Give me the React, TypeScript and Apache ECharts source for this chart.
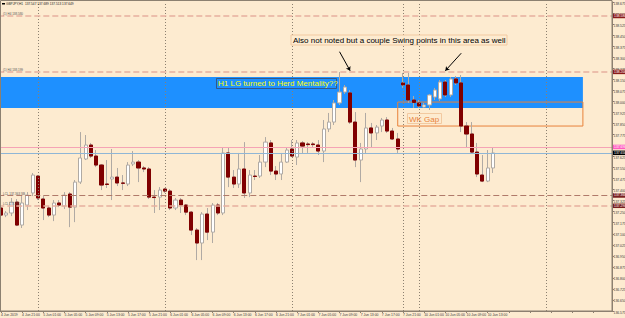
import React, { useEffect, useRef } from 'react';
import * as echarts from 'echarts';

// ---------- data ----------
const chartTitle = 'GBPJPY,H1  137.547 137.689 137.513 137.649';

// one label every 4 hourly bars, starting at bar 0
const xTickLabels = [
  '4 Jun 2019', '4 Jun 21:00', '5 Jun 01:00', '5 Jun 05:00', '5 Jun 09:00', '5 Jun 13:00',
  '5 Jun 17:00', '5 Jun 21:00', '6 Jun 01:00', '6 Jun 05:00', '6 Jun 09:00', '6 Jun 13:00',
  '6 Jun 17:00', '6 Jun 21:00', '7 Jun 01:00', '7 Jun 05:00', '7 Jun 09:00', '7 Jun 13:00',
  '7 Jun 17:00', '7 Jun 21:00', '10 Jun 01:00', '10 Jun 05:00', '10 Jun 09:00', '10 Jun 13:00',
];

const opens = [
  137.275, 137.227, 137.241, 137.315, 137.159, 137.295, 137.377, 137.492, 137.336, 137.275,
  137.227, 137.309, 137.288, 137.370, 137.281, 137.451, 137.608, 137.703, 137.628, 137.567,
  137.438, 137.472, 137.485, 137.445, 137.438, 137.574, 137.587, 137.547, 137.540, 137.349,
  137.349, 137.404, 137.390, 137.275, 137.329, 137.295, 137.247, 137.125, 137.037, 137.234,
  137.111, 137.295, 137.241, 137.649, 137.485, 137.438, 137.540, 137.377, 137.492, 137.492,
  137.587, 137.717, 137.526, 137.506, 137.587, 137.676, 137.621, 137.717, 137.710, 137.710,
  137.703, 137.662, 137.812, 137.859, 137.989, 138.063, 138.057, 137.859, 137.601, 137.676,
  137.819, 137.785, 137.832, 137.873, 137.798, 137.744, 138.125, 138.111, 138.009, 137.989,
  137.961, 137.975, 138.029, 138.016, 138.131, 138.043, 138.152, 138.125, 137.832, 137.778,
  137.655, 137.499, 137.458, 137.547,
];
const closes = [
  137.227, 137.241, 137.315, 137.159, 137.309, 137.363, 137.499, 137.343, 137.275, 137.227,
  137.309, 137.295, 137.363, 137.281, 137.451, 137.615, 137.703, 137.628, 137.567, 137.431,
  137.435, 137.485, 137.445, 137.443, 137.567, 137.587, 137.547, 137.540, 137.349, 137.346,
  137.397, 137.390, 137.275, 137.329, 137.295, 137.247, 137.125, 137.037, 137.234, 137.111,
  137.295, 137.241, 137.649, 137.485, 137.438, 137.540, 137.377, 137.499, 137.489, 137.587,
  137.723, 137.526, 137.506, 137.587, 137.669, 137.628, 137.717, 137.696, 137.706, 137.706,
  137.662, 137.812, 137.859, 137.989, 138.063, 138.097, 137.859, 137.601, 137.676, 137.819,
  137.785, 137.825, 137.873, 137.798, 137.744, 137.676, 138.111, 138.009, 137.992, 137.968,
  137.975, 138.043, 138.077, 138.131, 138.043, 138.152, 138.125, 137.832, 137.778, 137.655,
  137.506, 137.458, 137.547, 137.649,
];
const lows = [
  137.111, 137.213, 137.220, 137.152, 137.139, 137.261, 137.356, 137.329, 137.193, 137.213,
  137.186, 137.281, 137.268, 137.145, 137.179, 137.438, 137.601, 137.615, 137.553, 137.397,
  137.411, 137.329, 137.424, 137.397, 137.424, 137.560, 137.451, 137.519, 137.336, 137.241,
  137.261, 137.377, 137.261, 137.261, 137.241, 137.227, 137.091, 136.921, 136.921, 137.057,
  137.037, 137.227, 137.227, 137.417, 137.411, 137.411, 137.343, 137.349, 137.465, 137.479,
  137.553, 137.499, 137.465, 137.465, 137.581, 137.621, 137.567, 137.649, 137.649, 137.689,
  137.635, 137.587, 137.791, 137.839, 137.975, 138.050, 137.846, 137.553, 137.451, 137.649,
  137.689, 137.737, 137.791, 137.785, 137.737, 137.649, 138.091, 137.989, 137.955, 137.955,
  137.955, 137.941, 138.009, 138.002, 138.029, 138.029, 138.111, 137.791, 137.689, 137.649,
  137.485, 137.451, 137.451, 137.513,
];
const highs = [
  137.295, 137.254, 137.343, 137.336, 137.356, 137.383, 137.513, 137.499, 137.356, 137.288,
  137.329, 137.329, 137.383, 137.383, 137.465, 137.791, 137.771, 137.717, 137.669, 137.574,
  137.601, 137.676, 137.547, 137.499, 137.587, 137.662, 137.601, 137.560, 137.553, 137.397,
  137.417, 137.411, 137.404, 137.343, 137.343, 137.302, 137.254, 137.139, 137.247, 137.275,
  137.309, 137.309, 137.689, 137.689, 137.533, 137.649, 137.723, 137.533, 137.533, 137.635,
  137.757, 137.737, 137.560, 137.649, 137.689, 137.737, 137.737, 137.730, 137.723, 137.723,
  137.737, 137.873, 137.921, 138.009, 138.199, 138.111, 138.077, 137.927, 137.717, 137.921,
  137.853, 137.839, 137.887, 137.893, 137.819, 137.785, 138.193, 138.193, 138.036, 138.009,
  137.989, 138.050, 138.091, 138.145, 138.145, 138.165, 138.172, 138.179, 137.859, 137.859,
  137.717, 137.635, 137.669, 137.689,
];

const totalSlots = 116; // visible bar slots incl. empty future area
const yMin = 136.575;
const yMax = 138.675;
const yStep = 0.075;

const upperLevels = [138.580, 138.199];
const lowerLevels = [137.363, 137.295];
const pinkLevel = 137.689;
const bidLevel = 137.649;
const zoneTop = 138.165;
const zoneBottom = 137.955;
const gapTop = 137.995;
const gapBottom = 137.832;
const daySeparators = [7, 31, 55, 76, 79, 103];
const zoneEndBar = 110;
const gapStartBar = 75;
const arrow1 = [[64, 138.337], [66, 138.208]];
const arrow2 = [[87, 138.327], [84, 138.208]];

// ---------- styles ----------
const BG = '#fdebd0';
const FRAME = '#8c8070';
const BEAR = '#800000';
const WICK = '#b0aaa4';
const FONT = '"Liberation Sans", Arial, sans-serif';
const TINY = 3.4;

const tag = (bg: string, fg = '#ffffff') => ({
  show: true,
  position: 'end' as const,
  distance: 1,
  formatter: (p: any) => Number(p.value).toFixed(3),
  backgroundColor: bg,
  color: fg,
  fontSize: TINY,
  fontFamily: FONT,
  padding: [1, 1, 0.5, 1],
});

function buildOption() {
  const cats = Array.from({ length: totalSlots }, (_, i) => String(i));
  const candles = opens.map((o, i) => [o, closes[i], lows[i], highs[i]]);
  const bearBodies: number[][] = [];
  opens.forEach((o, i) => {
    if (closes[i] < o) bearBodies.push([i, o, closes[i], closes[i], o]);
  });

  const hLine = (v: number, color: string, width: number, type: any, bg: string, fg?: string) => ({
    yAxis: v,
    lineStyle: { color, width, type },
    label: tag(bg, fg),
  });

  const note = (x: number, y: number, text: string) => ({
    type: 'text', z: 101, x, y,
    style: { text, fontSize: 3, fontFamily: FONT, fill: '#555', verticalAlign: 'middle' },
  });

  return {
    animation: false,
    backgroundColor: BG,
    grid: { left: -1.7, right: 13, top: 2, bottom: 7, outerBoundsMode: 'none', containLabel: false },
    xAxis: {
      type: 'category',
      data: cats,
      boundaryGap: true,
      axisLine: { show: true, lineStyle: { color: FRAME, width: 1 } },
      axisTick: { show: true, interval: 3, alignWithLabel: true, length: 2, lineStyle: { color: FRAME } },
      axisLabel: {
        show: true,
        interval: 3,
        showMinLabel: true,
        hideOverlap: false,
        fontSize: TINY,
        fontFamily: FONT,
        color: '#3a3a3a',
        margin: 2,
        align: 'left',
        formatter: (v: string) => {
          const i = Number(v);
          return i % 4 === 0 && i / 4 < xTickLabels.length ? xTickLabels[i / 4] : '';
        },
      },
      splitLine: { show: false },
    },
    yAxis: {
      type: 'value',
      position: 'right',
      min: yMin,
      max: yMax,
      interval: yStep,
      axisLine: { show: true, lineStyle: { color: FRAME, width: 1 } },
      axisTick: { show: true, length: 2, lineStyle: { color: FRAME } },
      axisLabel: {
        fontSize: TINY,
        fontFamily: FONT,
        color: '#3a3a3a',
        margin: 1.5,
        verticalAlign: 'top',
        showMinLabel: true,
        showMaxLabel: true,
        formatter: (v: number) => v.toFixed(3),
      },
      splitLine: { show: false },
    },
    graphic: [
      {
        type: 'rect',
        z: 100,
        silent: true,
        shape: { x: 0.5, y: 0.5, width: 611.5, height: 310.5 },
        style: { fill: 'none', stroke: FRAME, lineWidth: 1 },
      },
      { type: 'rect', z: 101, shape: { x: 2, y: 3, width: 3, height: 1.5 }, style: { fill: '#000' } },
      {
        type: 'text', z: 101, x: 6, y: 4,
        style: { text: chartTitle, fontSize: 3.2, fontFamily: FONT, fill: '#222', verticalAlign: 'middle' },
      },
      note(3, 14, '(1) H4 138.580'),
      note(3, 70, '(1) H4 138.199'),
      note(3, 193.5, 'LCL 137.363 SB'),
      note(3, 203.5, 'LCL 137.295'),
      // swing-point note
      {
        type: 'rect', z: 101, shape: { x: 291, y: 35, width: 216, height: 10 },
        style: { fill: BG, stroke: '#f2c9a0', lineWidth: 1 },
      },
      {
        type: 'text', z: 102, x: 293, y: 40,
        style: {
          text: 'Also not noted but a couple Swing points in this area as well',
          fontSize: 8, fontFamily: FONT, fill: '#000', verticalAlign: 'middle',
        },
      },
      // herd mentality label
      {
        type: 'rect', z: 101, shape: { x: 216.5, y: 78.5, width: 120, height: 10 },
        style: { fill: 'none', stroke: '#3a4a6a', lineWidth: 0.8 },
      },
      {
        type: 'text', z: 102, x: 218, y: 83.5,
        style: {
          text: 'H1 LG turned to Herd Mentality??',
          fontSize: 8, fontFamily: FONT, fill: '#ffff00', verticalAlign: 'middle',
        },
      },
      // WK gap label
      {
        type: 'rect', z: 101, shape: { x: 407.5, y: 113.5, width: 34, height: 10 },
        style: { fill: 'none', stroke: '#f2c9a0', lineWidth: 1 },
      },
      {
        type: 'text', z: 102, x: 409, y: 119,
        style: { text: 'WK Gap', fontSize: 8, fontFamily: FONT, fill: '#e8823a', verticalAlign: 'middle' },
      },
    ],
    series: [
      {
        type: 'candlestick',
        data: candles,
        barWidth: 3.6,
        itemStyle: {
          color: '#ffffff',
          color0: BEAR,
          borderColor: WICK,
          borderColor0: WICK,
          borderWidth: 1,
        },
        markArea: {
          silent: true,
          z: 1,
          data: [
            [
              { yAxis: zoneTop, itemStyle: { color: '#1e90ff', opacity: 1 } },
              { xAxis: zoneEndBar, yAxis: zoneBottom },
            ],
            [
              {
                xAxis: gapStartBar, yAxis: gapTop,
                itemStyle: { color: 'rgba(0,0,0,0)', borderColor: '#e8823a', borderWidth: 1 },
              },
              { xAxis: zoneEndBar, yAxis: gapBottom },
            ],
          ],
        },
        markLine: {
          silent: true,
          symbol: ['none', 'none'],
          animation: false,
          data: [
            ...daySeparators.map((b) => ({
              xAxis: b,
              lineStyle: { color: FRAME, width: 1, type: [1, 2] },
              label: { show: false },
            })),
            hLine(upperLevels[0], '#e6b09e', 1.5, [6, 3], '#8b1a1a'),
            hLine(upperLevels[1], '#e6b09e', 1.5, [6, 3], '#8b1a1a'),
            hLine(pinkLevel, '#f5a3b5', 1, 'solid', '#ff5cc0'),
            hLine(bidLevel, '#8fb6d6', 1, 'solid', '#000000'),
            hLine(lowerLevels[0], '#b07a6a', 1, [6, 3], '#7a1f1f'),
            hLine(lowerLevels[1], '#e6b09e', 1.5, [6, 3], '#7a1f1f'),
            [
              { coord: arrow1[0], symbol: 'none', lineStyle: { color: '#000', width: 1, type: 'solid' }, label: { show: false } },
              { coord: arrow1[1], symbol: 'arrow', symbolSize: 4 },
            ],
            [
              { coord: arrow2[0], symbol: 'none', lineStyle: { color: '#000', width: 1, type: 'solid' }, label: { show: false } },
              { coord: arrow2[1], symbol: 'arrow', symbolSize: 4 },
            ],
          ],
        },
      },
      {
        type: 'candlestick',
        data: bearBodies,
        encode: { x: 0, y: [1, 2, 3, 4] },
        barWidth: 3.6,
        itemStyle: {
          color: BEAR,
          color0: BEAR,
          borderColor: BEAR,
          borderColor0: BEAR,
          borderWidth: 1,
        },
      },
    ],
  };
}

export default function App() {
  const ref = useRef<HTMLDivElement>(null);
  useEffect(() => {
    document.body.style.margin = '0';
    const chart = echarts.init(ref.current!, null, { renderer: 'svg' });
    chart.setOption(buildOption() as any);
    return () => chart.dispose();
  }, []);
  return <div ref={ref} style={{ width: 625, height: 318 }} />;
}
